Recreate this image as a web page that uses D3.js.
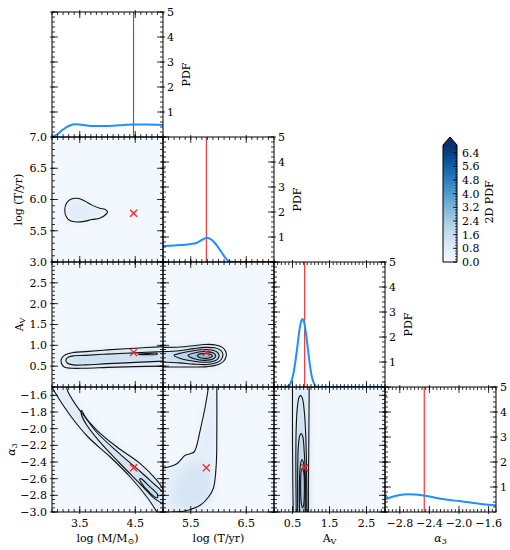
<!DOCTYPE html>
<html><head><meta charset="utf-8">
<script src="https://cdn.jsdelivr.net/npm/d3@7"></script>
<style>
body{margin:0;background:#fff}
text{font-family:"DejaVu Serif",serif;font-size:11px;fill:#000}
</style>
</head><body>
<svg id="c" width="510" height="550"></svg>
<script>
// ---------------- DATA ----------------
const domains = [[3.0,5.0],[5.0,7.0],[0.0,3.0],[-3.0,-1.5]];
const xTickLabels = [[3.5,4.5],[5.5,6.5],[0.5,1.5,2.5],[-2.8,-2.4,-2.0,-1.6]];
const yTickLabels = [null,[7.0,6.5,6.0,5.5],[3.0,2.5,2.0,1.5,1.0,0.5],[-1.6,-1.8,-2.0,-2.2,-2.4,-2.6,-2.8,-3.0]];
const minorSteps = [0.1,0.1,0.1,0.05];
const pdfTicks = [1,2,3,4,5];
const truth = [4.47, 5.78, 0.83, -2.47];

const pdfLogM = [[3.0,0.0],[3.1,0.12],[3.2,0.3],[3.3,0.44],[3.4,0.51],[3.5,0.5],[3.6,0.47],[3.75,0.44],[3.9,0.44],[4.1,0.45],[4.3,0.48],[4.5,0.5],[4.7,0.5],[4.9,0.49],[5.0,0.48]];
const pdfLogT = [[5.0,0.64],[5.2,0.66],[5.4,0.69],[5.5,0.72],[5.6,0.76],[5.7,0.88],[5.79,0.97],[5.87,0.9],[5.95,0.72],[6.05,0.4],[6.15,0.1],[6.22,0.01],[6.35,0.0],[7.0,0.0]];
const pdfAV = [[0,0],[0.3,0],[0.38,0.03],[0.45,0.15],[0.52,0.5],[0.58,1.05],[0.63,1.6],[0.68,2.2],[0.73,2.6],[0.77,2.72],[0.81,2.6],[0.86,2.2],[0.91,1.6],[0.96,1.0],[1.01,0.5],[1.07,0.18],[1.13,0.03],[1.2,0],[3,0]];
const pdfAlpha = [[-3.0,0.51],[-2.9,0.61],[-2.8,0.68],[-2.7,0.71],[-2.6,0.7],[-2.5,0.67],[-2.4,0.62],[-2.3,0.56],[-2.2,0.51],[-2.1,0.47],[-2.0,0.44],[-1.9,0.4],[-1.8,0.36],[-1.7,0.32],[-1.6,0.29],[-1.5,0.26]];
const pdfs = [pdfLogM, pdfLogT, pdfAV, pdfAlpha];

// 2D density background level and contour lines (data units)
const bgLevel = 0.15;
// logM vs logT
const cMT = [
  {level:0.8, closed:true, pts:[[3.23,5.83],[3.26,5.94],[3.33,6.0],[3.45,6.02],[3.58,5.98],[3.72,5.91],[3.86,5.86],[3.96,5.84],[4.0,5.8],[3.97,5.76],[3.86,5.7],[3.72,5.68],[3.58,5.65],[3.45,5.64],[3.33,5.66],[3.26,5.72]]}
];
// logM vs AV
const cMA = [
  {level:0.9, pts:[[5.0,0.97],[4.5,0.93],[4.0,0.89],[3.6,0.85],[3.4,0.83],[3.25,0.78],[3.17,0.68],[3.17,0.57],[3.22,0.48],[3.35,0.45],[3.6,0.45],[4.0,0.47],[4.5,0.49],[5.0,0.5]]},
  {level:1.6, pts:[[5.0,0.85],[4.5,0.82],[4.0,0.79],[3.6,0.76],[3.4,0.75],[3.3,0.72],[3.25,0.65],[3.28,0.57],[3.38,0.53],[3.6,0.53],[4.0,0.56],[4.5,0.59],[5.0,0.62]]},
  {level:2.3, closed:true, pts:[[4.55,0.79],[4.7,0.8],[4.88,0.81],[4.9,0.785],[4.7,0.775],[4.57,0.78]]}
];
// logT vs AV
const cTA = [
  {level:0.9, pts:[[5.0,0.95],[5.3,0.96],[5.55,0.99],[5.75,1.02],[5.95,1.01],[6.07,0.95],[6.13,0.85],[6.14,0.75],[6.1,0.63],[6.0,0.54],[5.8,0.49],[5.55,0.48],[5.3,0.48],[5.0,0.48]]},
  {level:1.6, pts:[[5.0,0.85],[5.3,0.87],[5.55,0.92],[5.75,0.95],[5.93,0.94],[6.04,0.88],[6.08,0.78],[6.05,0.66],[5.96,0.58],[5.8,0.54],[5.55,0.55],[5.3,0.58],[5.0,0.6]]},
  {level:2.3, closed:true, pts:[[5.2,0.76],[5.35,0.82],[5.55,0.87],[5.75,0.9],[5.9,0.88],[5.99,0.82],[6.01,0.74],[5.97,0.65],[5.85,0.6],[5.65,0.6],[5.45,0.64],[5.3,0.69]]},
  {level:3.0, closed:true, pts:[[5.45,0.76],[5.6,0.83],[5.78,0.85],[5.9,0.82],[5.95,0.75],[5.9,0.67],[5.75,0.64],[5.58,0.67]]},
  {level:3.7, closed:true, pts:[[5.62,0.76],[5.72,0.8],[5.84,0.79],[5.89,0.75],[5.84,0.7],[5.72,0.69],[5.64,0.72]]}
];
// logM vs alpha3
const cMa = [
  {level:0.9, pts:[[3.0,-1.5],[3.05,-1.56],[3.35,-1.86],[3.65,-2.1],[4.05,-2.34],[4.41,-2.58],[4.71,-2.82],[4.89,-3.0]],
   corner:[[5.0,-3.0]],
   pts2:[[3.26,-1.5],[3.29,-1.56],[3.5,-1.78],[3.81,-2.02],[4.17,-2.22],[4.59,-2.42],[4.89,-2.62],[5.0,-2.72]]},
  {level:1.6, pts:[[5.0,-2.76],[4.85,-2.67],[4.6,-2.52],[4.2,-2.29],[3.8,-2.04],[3.6,-1.86],[3.53,-1.78],[3.53,-1.83],[3.62,-1.95],[3.85,-2.15],[4.2,-2.4],[4.6,-2.67],[4.85,-2.84],[5.0,-2.9]]},
  {level:2.3, closed:true, pts:[[4.6,-2.6],[4.75,-2.69],[4.9,-2.79],[4.89,-2.83],[4.75,-2.76],[4.6,-2.64],[4.58,-2.61]]}
];
// logT vs alpha3
const cTa = [
  {level:0.7, pts:[[5.82,-1.5],[5.76,-1.74],[5.67,-2.02],[5.6,-2.22],[5.56,-2.28],[5.49,-2.3],[5.4,-2.32],[5.25,-2.42],[5.1,-2.46],[5.0,-2.47]],
   corner:[[5.0,-3.0]],
   pts2:[[5.97,-1.5],[5.97,-2.02],[5.96,-2.42],[5.91,-2.71],[5.82,-2.82],[5.67,-2.92],[5.37,-2.99],[5.13,-3.0]]},
  {level:1.1, shade:true, closed:true, pts:[[5.4,-2.5],[5.7,-2.4],[5.88,-2.55],[5.85,-2.85],[5.6,-2.97],[5.3,-2.97],[5.2,-2.75]]}
];
// AV vs alpha3
const cAa = [
  {level:0.9, pts:[[0.5,-1.5],[0.5,-2.2],[0.51,-2.7],[0.52,-3.0]], corner:[], pts2:[[0.95,-1.5],[0.94,-2.2],[0.93,-2.7],[0.93,-3.0]]},
  {level:1.6, pts:[[0.6,-3.0],[0.59,-2.4],[0.6,-2.0],[0.63,-1.75],[0.68,-1.62],[0.72,-1.6],[0.77,-1.64],[0.82,-1.8],[0.86,-2.1],[0.88,-2.5],[0.89,-3.0]]},
  {level:2.3, pts:[[0.64,-3.0],[0.64,-2.5],[0.66,-2.2],[0.7,-2.08],[0.74,-2.06],[0.78,-2.1],[0.82,-2.3],[0.85,-2.6],[0.86,-3.0]]},
  {level:3.0, pts:[[0.69,-3.0],[0.69,-2.6],[0.72,-2.42],[0.76,-2.37],[0.8,-2.42],[0.83,-2.6],[0.84,-3.0]]},
  {level:3.7, closed:true, pts:[[0.74,-2.5],[0.78,-2.47],[0.81,-2.55],[0.82,-2.75],[0.8,-2.92],[0.77,-2.95],[0.74,-2.9],[0.72,-2.7]]}
];
const panels2D = [
  {row:1,col:0,contours:cMT},
  {row:2,col:0,contours:cMA},
  {row:2,col:1,contours:cTA},
  {row:3,col:0,contours:cMa},
  {row:3,col:1,contours:cTa},
  {row:3,col:2,contours:cAa}
];
const cbarTicks = [0.0,0.8,1.6,2.4,3.2,4.0,4.8,5.6,6.4];
const cbarMax = 6.85;

// ---------------- LAYOUT ----------------
const svg = d3.select("#c");
const colEdges = [52,163,274,385,496];
const rowEdges = [12,137,262,387,512];
const color = d3.scaleSequential(d3.interpolateBlues).domain([0, cbarMax]);
const fmt = v => (v<0?"\u2212":"") + Math.abs(v).toFixed(1);

const xScale = j => d3.scaleLinear().domain(domains[j]).range([colEdges[j], colEdges[j+1]]);
const yScale = i => d3.scaleLinear().domain(domains[i]).range([rowEdges[i+1], rowEdges[i]]);
const pdfScale = i => d3.scaleLinear().domain([0,5]).range([rowEdges[i+1], rowEdges[i]]);
function steps(a,b,s){const n=Math.round(Math.abs(b-a)/s);return d3.range(n+1).map(k=>+(a+k*s).toFixed(6));}

const defs = svg.append("defs");
defs.append("filter").attr("id","blur").attr("x","-20%").attr("y","-20%").attr("width","140%").attr("height","140%")
  .append("feGaussianBlur").attr("stdDeviation",4);

const plotLayer = svg.append("g");
const tickLayer = svg.append("g");
function drawTicks(x,y,xMaj,xMin,yMaj,yMin){
  const [xa,xb]=x.range(), [yb,ya]=y.range();
  const segs=[];
  xMin.forEach(v=>{const p=x(v); segs.push([p,yb,p,yb-3],[p,ya,p,ya+3]);});
  xMaj.forEach(v=>{const p=x(v); segs.push([p,yb+2,p,yb-6],[p,ya-2,p,ya+6]);});
  yMin.forEach(v=>{const p=y(v); segs.push([xa,p,xa+3,p],[xb,p,xb-3,p]);});
  yMaj.forEach(v=>{const p=y(v); segs.push([xa-2,p,xa+6,p],[xb+2,p,xb-6,p]);});
  tickLayer.append("g").selectAll("line").data(segs).join("line")
    .attr("x1",d=>d[0]).attr("y1",d=>d[1]).attr("x2",d=>d[2]).attr("y2",d=>d[3])
    .attr("stroke","#000").attr("stroke-width",0.8);
  tickLayer.append("rect").attr("x",xa).attr("y",ya).attr("width",xb-xa).attr("height",yb-ya)
    .attr("fill","none").attr("stroke","#000").attr("stroke-width",1);
}

// ---------------- 2D PANELS ----------------
panels2D.forEach((P,k)=>{
  const x=xScale(P.col), y=yScale(P.row);
  const [xa,xb]=x.range(), [yb,ya]=y.range();
  const cid="clip"+k;
  defs.append("clipPath").attr("id",cid).append("rect").attr("x",xa).attr("y",ya).attr("width",xb-xa).attr("height",yb-ya);
  const g = plotLayer.append("g").attr("clip-path",`url(#${cid})`);
  const shade = g.append("g").attr("filter","url(#blur)");
  shade.append("rect").attr("x",xa-15).attr("y",ya-15).attr("width",xb-xa+30).attr("height",yb-ya+30).attr("fill",color(bgLevel));
  const lineOpen = d3.line().x(d=>x(d[0])).y(d=>y(d[1])).curve(d3.curveCatmullRom);
  const lineClosed = d3.line().x(d=>x(d[0])).y(d=>y(d[1])).curve(d3.curveCatmullRomClosed);
  const lineFill = d3.line().x(d=>x(d[0])).y(d=>y(d[1])).curve(d3.curveLinearClosed);
  P.contours.forEach(c=>{
    const fillPts = c.pts2 ? c.pts.concat(c.corner, c.pts2.slice().reverse()) : c.pts;
    shade.append("path").attr("d", c.closed? lineClosed(fillPts) : lineFill(fillPts)).attr("fill",color(c.level));
  });
  P.contours.filter(c=>!c.shade).forEach(c=>{
    const paths = c.pts2? [c.pts,c.pts2] : [c.pts];
    paths.forEach(p=>g.append("path").attr("d", c.closed? lineClosed(p) : lineOpen(p))
      .attr("fill","none").attr("stroke","#111").attr("stroke-width",1.1));
  });
  g.append("path").attr("d",d3.symbol(d3.symbolX,34)())
    .attr("transform",`translate(${x(truth[P.col])},${y(truth[P.row])})`)
    .attr("stroke","#ff2020").attr("stroke-width",1.3).attr("fill","none");
  drawTicks(x,y,xTickLabels[P.col],steps(domains[P.col][0],domains[P.col][1],minorSteps[P.col]),
            yTickLabels[P.row],steps(domains[P.row][0],domains[P.row][1],minorSteps[P.row]));
});

// ---------------- DIAGONAL PDF PANELS ----------------
[0,1,2,3].forEach(i=>{
  const x=xScale(i), y=pdfScale(i);
  const [xa,xb]=x.range(), [yb,ya]=y.range();
  const cid="dclip"+i;
  defs.append("clipPath").attr("id",cid).append("rect").attr("x",xa).attr("y",ya-1).attr("width",xb-xa).attr("height",yb-ya+1);
  const g = plotLayer.append("g").attr("clip-path",`url(#${cid})`);
  g.append("rect").attr("x",xa).attr("y",ya).attr("width",xb-xa).attr("height",yb-ya).attr("fill","#fff");
  g.append("line").attr("x1",x(truth[i])).attr("x2",x(truth[i])).attr("y1",ya).attr("y2",yb)
    .attr("stroke","#ee1111").attr("stroke-width",1);
  g.append("path").datum(pdfs[i])
    .attr("d",d3.line().x(d=>x(d[0])).y(d=>y(d[1])).curve(d3.curveMonotoneX))
    .attr("fill","none").attr("stroke","#1e90ff").attr("stroke-width",2);
  drawTicks(x,y,xTickLabels[i],steps(domains[i][0],domains[i][1],minorSteps[i]),pdfTicks,steps(0,5,0.2));
  svg.append("g").selectAll("text").data(pdfTicks).join("text")
    .attr("x",xb+4).attr("y",d=>y(d)).attr("dy","0.35em").text(d=>d);
  if(i<3){
    svg.append("text").attr("transform",`translate(${xb+27},${(ya+yb)/2}) rotate(-90)`)
      .attr("text-anchor","middle").text("PDF");
  }
});

// ---------------- AXIS LABELS ----------------
[1,2,3].forEach(i=>{
  const y=yScale(i);
  svg.append("g").selectAll("text").data(yTickLabels[i]).join("text")
    .attr("x",colEdges[0]-5).attr("y",d=>y(d)).attr("dy","0.35em").attr("text-anchor","end").text(fmt);
});
[0,1,2,3].forEach(j=>{
  const x=xScale(j);
  svg.append("g").selectAll("text").data(xTickLabels[j]).join("text")
    .attr("x",d=>x(d)).attr("y",rowEdges[4]+11).attr("dy","0.35em").attr("text-anchor","middle").text(fmt);
});
function label(sel, parts){
  parts.forEach(p=>{
    const t=sel.append("tspan").text(p.t);
    if(p.sub){ t.attr("baseline-shift","-25%").attr("font-size","8px"); }
    if(p.it) t.attr("font-style","italic");
  });
}
const xNames = [
  [{t:"log (M/M"},{t:"\u2299",sub:true},{t:")"}],
  [{t:"log (T/yr)"}],
  [{t:"A"},{t:"V",sub:true}],
  [{t:"\u03b1",it:true},{t:"3",sub:true}]
];
xNames.forEach((parts,j)=>{
  const cx=(colEdges[j]+colEdges[j+1])/2;
  label(svg.append("text").attr("x",cx).attr("y",542).attr("text-anchor","middle"), parts);
});
const yNameX = [0,22,23,15];
[1,2,3].forEach(i=>{
  const cy=(rowEdges[i]+rowEdges[i+1])/2;
  label(svg.append("text").attr("transform",`translate(${yNameX[i]},${cy}) rotate(-90)`).attr("text-anchor","middle"), xNames[i]);
});

// ---------------- COLORBAR ----------------
const cb = d3.scaleLinear().domain([0,cbarMax]).range([262,145]);
const grad = defs.append("linearGradient").attr("id","cbg").attr("x1",0).attr("y1",1).attr("x2",0).attr("y2",0);
d3.range(0,1.0001,0.05).forEach(t=>grad.append("stop").attr("offset",t).attr("stop-color",color(t*cbarMax)));
const cbx0=443, cbx1=457;
svg.append("rect").attr("x",cbx0).attr("y",cb(cbarMax)).attr("width",cbx1-cbx0).attr("height",cb(0)-cb(cbarMax)).attr("fill","url(#cbg)");
svg.append("path").attr("d",`M${cbx0},${cb(cbarMax)} L${(cbx0+cbx1)/2},137 L${cbx1},${cb(cbarMax)} Z`).attr("fill",color(cbarMax));
svg.append("path").attr("d",`M${cbx0},${cb(0)} L${cbx0},${cb(cbarMax)} L${(cbx0+cbx1)/2},137 L${cbx1},${cb(cbarMax)} L${cbx1},${cb(0)} Z`)
  .attr("fill","none").attr("stroke","#000").attr("stroke-width",1);
svg.append("g").selectAll("line").data(steps(0,6.72,0.16)).join("line")
  .attr("x1",cbx1).attr("x2",cbx1-2).attr("y1",d=>cb(d)).attr("y2",d=>cb(d)).attr("stroke","#000").attr("stroke-width",0.7);
svg.append("g").selectAll("line").data(cbarTicks).join("line")
  .attr("x1",cbx1).attr("x2",cbx1-4).attr("y1",d=>cb(d)).attr("y2",d=>cb(d)).attr("stroke","#000").attr("stroke-width",0.8);
svg.append("g").selectAll("text").data(cbarTicks).join("text")
  .attr("x",cbx1+5).attr("y",d=>cb(d)).attr("dy","0.35em").text(d=>d.toFixed(1));
svg.append("text").attr("transform",`translate(493,202) rotate(-90)`).attr("text-anchor","middle").text("2D PDF");
</script>
</body></html>
